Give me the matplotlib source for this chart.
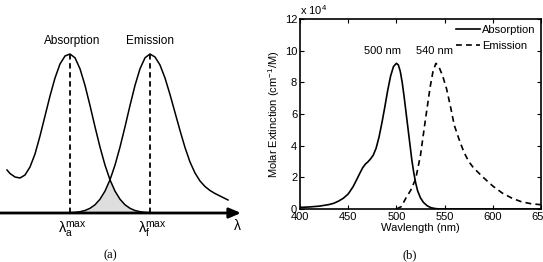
import numpy as np
import matplotlib
matplotlib.use("Agg")
import matplotlib.pyplot as plt

plt.rcParams['font.family'] = ['Liberation Sans', 'DejaVu Sans']
plt.rcParams['mathtext.fontset'] = 'custom'
plt.rcParams['mathtext.rm'] = 'Liberation Sans'
plt.rcParams['mathtext.it'] = 'Liberation Sans'
plt.rcParams['mathtext.default'] = 'regular'

# ---- panel (a): schematic spectra (arbitrary units) ----
sch_abs_x = [7, 10, 15, 20, 25, 30, 35, 40, 45, 50, 55, 60, 65, 70, 75, 80, 85,
             90, 95, 100, 105, 110, 115, 120, 125, 130, 135, 140, 145, 150]
sch_abs_y = [43, 39.5, 36, 35, 38, 46, 59, 77, 97, 117, 135, 149, 157, 159,
             155.2, 144.2, 127.6, 107.5, 86.2, 65.9, 47.9, 33.2, 21.9, 13.8,
             8.2, 4.7, 2.5, 1.3, 0.6, 0.3]
sch_em_x = [70, 75, 80, 85, 90, 95, 100, 105, 110, 115, 120, 125, 130, 135, 140,
            145, 150, 155, 160, 165, 170, 175, 180, 185, 190, 195, 200, 205, 210,
            215, 220, 225, 228]
sch_em_y = [0.3, 0.6, 1.3, 2.5, 4.7, 8.2, 13.8, 21.9, 33.2, 47.9, 65.9, 86.2,
            107.5, 127.6, 144.2, 155.2, 159, 156, 148, 135, 118.5, 100.5, 82.5,
            65.5, 51, 40, 32, 26.5, 22.5, 19.5, 17, 14.5, 13]
peak_a = 70
peak_f = 150

# ---- panel (b): measured spectra (x 10^4 cm^-1/M) ----
abs_nm = [400, 410, 420, 430, 435, 440, 445, 450, 455, 460, 462, 465, 468, 470,
          473, 476, 479, 482, 485, 488, 491, 494, 497, 500, 502, 504, 506, 508,
          510, 512, 514, 516, 518, 520, 522, 525, 528, 532, 536, 540, 545, 650]
abs_val = [0.10, 0.13, 0.18, 0.28, 0.36, 0.50, 0.68, 0.95, 1.40, 2.00, 2.25,
           2.60, 2.85, 2.95, 3.15, 3.40, 3.85, 4.55, 5.45, 6.45, 7.50, 8.40,
           9.00, 9.20, 9.10, 8.70, 8.00, 7.10, 6.10, 5.10, 4.10, 3.10, 2.30,
           1.65, 1.15, 0.70, 0.42, 0.20, 0.08, 0.03, 0.0, 0.0]
em_nm = [500, 505, 510, 515, 520, 525, 530, 535, 538, 541, 544, 548, 552, 556,
         560, 565, 570, 575, 580, 590, 600, 610, 620, 630, 640, 650]
em_val = [0.0, 0.15, 0.7, 1.2, 1.9, 3.4, 5.6, 7.7, 8.7, 9.2, 9.0, 8.4, 7.6, 6.5,
          5.3, 4.4, 3.6, 3.0, 2.6, 2.0, 1.45, 1.0, 0.68, 0.45, 0.33, 0.27]
x_ticks = [400, 450, 500, 550, 600, 650]
y_ticks = [0, 2, 4, 6, 8, 10, 12]

W, H = 543, 262
fig = plt.figure(figsize=(W / 100, H / 100), dpi=100)

# panel (a)
ax = fig.add_axes([0, 0, 250 / W, 1])
ax.set_xlim(0, 250)
ax.set_ylim(-49, 213)
ax.axis('off')

ax.plot(sch_abs_x, sch_abs_y, color='black', lw=1.1)
ax.plot(sch_em_x, sch_em_y, color='black', lw=1.1)

common = np.intersect1d(sch_abs_x, sch_em_x)
a_on = np.array([sch_abs_y[sch_abs_x.index(v)] for v in common])
e_on = np.array([sch_em_y[sch_em_x.index(v)] for v in common])
ax.fill_between(common, 0, np.minimum(a_on, e_on), color='#dedede', lw=0)

ax.plot([peak_a, peak_a], [0, max(sch_abs_y)], color='black', lw=1.3,
        linestyle=(0, (3, 2)))
ax.plot([peak_f, peak_f], [0, max(sch_em_y)], color='black', lw=1.3,
        linestyle=(0, (3, 2)))
ax.annotate('', xy=(241, 0), xytext=(0, 0),
            arrowprops=dict(arrowstyle='-|>,head_length=0.7,head_width=0.3',
                            color='black', lw=2, shrinkA=0, shrinkB=0))

ax.text(peak_a + 2, 172, 'Absorption', ha='center', va='center', fontsize=8.5)
ax.text(peak_f, 172, 'Emission', ha='center', va='center', fontsize=8.5)
ax.text(58, -17, r'$λ_a^{max}$', ha='left', va='center', fontsize=10.5)
ax.text(138, -17, r'$λ_f^{max}$', ha='left', va='center', fontsize=10.5)
ax.text(237, -13, 'λ', ha='center', va='center', fontsize=10)
ax.text(110, -42, '(a)', ha='center', va='center', fontsize=9,
        family='Liberation Serif')

# panel (b)
bx = fig.add_axes([300 / W, 53 / H, 241 / W, 190 / H])
bx.plot(abs_nm, abs_val, color='black', lw=1.2, label='Absorption')
bx.plot(em_nm, em_val, color='black', lw=1.2, linestyle=(0, (3.5, 2.5)),
        label='Emission')
bx.set_xlim(400, 650)
bx.set_ylim(0, 12)
bx.set_xticks(x_ticks)
bx.set_yticks(y_ticks)
bx.tick_params(direction='in', length=3, width=0.8, labelsize=8, pad=2,
               top=True, right=True)
for s in bx.spines.values():
    s.set_linewidth(1.2)
bx.set_xlabel('Wavlength (nm)', fontsize=8, labelpad=1)
bx.set_ylabel(r'Molar Extinction (cm$^{-1}$/M)', fontsize=8, labelpad=2)
bx.text(0.0, 1.01, r'x 10$^4$', transform=bx.transAxes, ha='left',
        va='bottom', fontsize=8)
bx.text(486, 9.95, '500 nm', ha='center', va='center', fontsize=8)
bx.text(540, 9.95, '540 nm', ha='center', va='center', fontsize=8)
bx.legend(loc='upper right', frameon=False, fontsize=8, handlelength=2.1,
          handletextpad=0.2, labelspacing=0.55, borderaxespad=0.1,
          borderpad=0.4)
fig.text(410 / W, 1 - 255 / H, '(b)', ha='center', va='center', fontsize=9,
         family='Liberation Serif')

fig.savefig('out.png', dpi=100)
